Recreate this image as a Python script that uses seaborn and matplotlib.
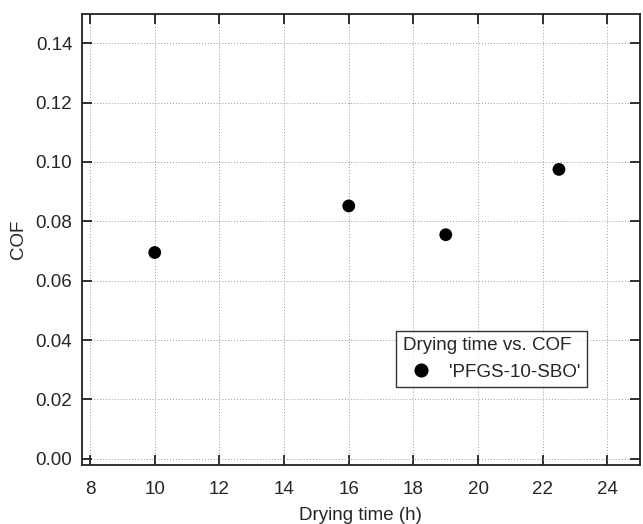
import pandas as pd
import matplotlib
matplotlib.use("Agg")
import matplotlib.pyplot as plt
import seaborn as sns

# data
drying_time = [10, 16, 19, 22.5]
cof = [0.0695, 0.0852, 0.0755, 0.0975]
series_name = "'PFGS-10-SBO'"

df = pd.DataFrame({"Drying time (h)": drying_time, "COF": cof, "series": series_name})

sns.set_style("ticks")
plt.rcParams["font.family"] = ["Liberation Sans", "DejaVu Sans"]

fig = plt.figure(figsize=(6.43, 5.24), dpi=100)
ax = fig.add_axes([0.1275, 0.113, 0.8675, 0.86])

sns.scatterplot(data=df, x="Drying time (h)", y="COF", hue="series", palette=["black"],
                s=85, edgecolor="black", linewidth=0, ax=ax)

ax.set_xlim(7.75, 25.0)
ax.set_ylim(-0.002, 0.1498)
ax.set_xticks(range(8, 25, 2))
ax.set_yticks([0.00, 0.02, 0.04, 0.06, 0.08, 0.10, 0.12, 0.14])
ax.yaxis.set_major_formatter(matplotlib.ticker.FormatStrFormatter("%.2f"))
ax.grid(True, linestyle=(0, (1, 2)), color="#999999", linewidth=0.7)
ax.tick_params(direction="in", length=7, width=1.3, labelsize=13.5, top=True, right=True,
               color="#222222")
ax.tick_params(axis="x", pad=12)
ax.tick_params(axis="y", pad=7)
for sp in ax.spines.values():
    sp.set_linewidth(1.3)
    sp.set_color("#222222")
ax.set_xlabel("Drying time (h)", fontsize=13.5, labelpad=6)
ax.set_ylabel("COF", fontsize=13.5, labelpad=6)

leg = ax.legend(title="Drying time vs. COF", loc="lower left", bbox_to_anchor=(0.563, 0.172),
                fontsize=13.5, title_fontsize=13.5, frameon=True, fancybox=False,
                handletextpad=0.5, borderpad=0.35, borderaxespad=0, markerscale=1.1)
leg.get_frame().set_edgecolor("black")
leg.get_frame().set_linewidth(1.0)
leg._legend_box.align = "left"

fig.savefig("out.png", dpi=100)
